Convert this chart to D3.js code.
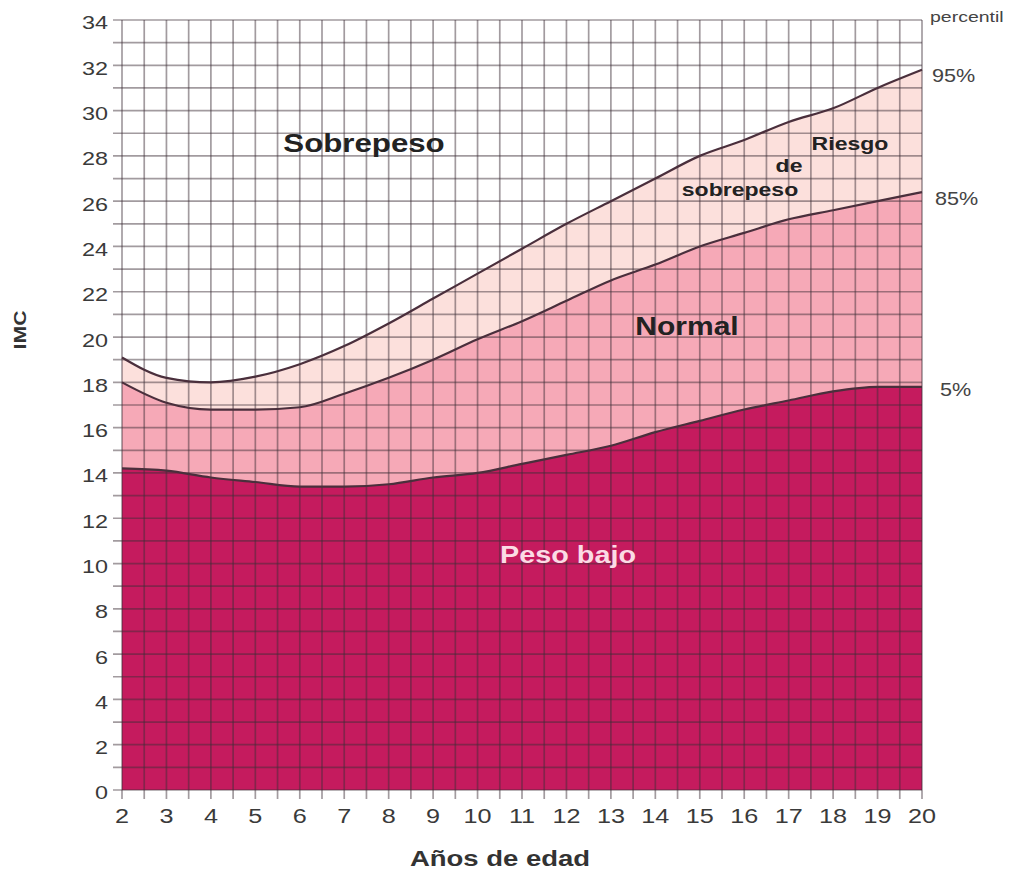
<!DOCTYPE html>
<html><head><meta charset="utf-8">
<script src="https://cdn.jsdelivr.net/npm/d3@7"></script>
<style>body{margin:0;background:#fff}svg{display:block;font-family:"Liberation Sans",Arial,sans-serif}</style>
</head><body><svg id="c" width="1015" height="870"></svg>
<script>
const ages = [2,3,4,5,6,7,8,9,10,11,12,13,14,15,16,17,18,19,20];
const p5  = [14.2,14.1,13.8,13.6,13.4,13.4,13.5,13.8,14.0,14.4,14.8,15.2,15.8,16.3,16.8,17.2,17.6,17.8,17.8];
const p85 = [18.0,17.1,16.8,16.8,16.9,17.5,18.2,19.0,19.9,20.7,21.6,22.5,23.2,24.0,24.6,25.2,25.6,26.0,26.4];
const p95 = [19.1,18.2,18.0,18.25,18.8,19.6,20.6,21.7,22.8,23.9,25.0,26.0,27.0,28.0,28.7,29.5,30.1,31.0,31.8];
const yTicks = d3.range(0,35,2);
const xTicks = d3.range(2,21,1);
const percentLabels = ["95%","85%","5%"];

const svg = d3.select("#c");
const x = d3.scaleLinear().domain([2,20]).range([122,922]);
const y = d3.scaleLinear().domain([0,34]).range([790,20]);
const curve = d3.curveMonotoneX;
const data = ages.map((a,i)=>({a, p5:p5[i], p85:p85[i], p95:p95[i]}));

const area = (lo,hi)=>d3.area().curve(curve).x(d=>x(d.a)).y0(lo).y1(hi);
svg.append("path").datum(data).attr("fill","#fce0dc").attr("d",area(d=>y(d.p85),d=>y(d.p95)));
svg.append("path").datum(data).attr("fill","#f6a9b7").attr("d",area(d=>y(d.p5),d=>y(d.p85)));
svg.append("path").datum(data).attr("fill","#c51b5e").attr("d",area(()=>y(0),d=>y(d.p5)));

// grid
const g = svg.append("g").attr("stroke","rgba(60,45,55,0.48)").attr("stroke-width",1.7);
d3.range(2,20.01,0.5).forEach(v=>{
  g.append("line").attr("x1",x(v)).attr("x2",x(v)).attr("y1",y(34)).attr("y2",y(0)+9);
});
d3.range(0,34.01,1).forEach(v=>{
  g.append("line").attr("x1",x(2)-9).attr("x2",x(20)).attr("y1",y(v)).attr("y2",y(v));
});

// percentile lines
["p95","p85","p5"].forEach(k=>{
  svg.append("path").datum(data).attr("fill","none").attr("stroke","#4a2f3c").attr("stroke-width",2.2)
    .attr("d",d3.line().curve(curve).x(d=>x(d.a)).y(d=>y(d[k])));
});

// stretched text helper
function txt(t,xx,yy,opt){
  const gg = svg.append("g").attr("transform",`translate(${xx},${yy})`);
  const el = gg.append("text").attr("transform",`scale(${opt.sx||1},1)`)
    .attr("text-anchor",opt.anchor||"start").attr("font-size",opt.fs).attr("fill",opt.fill||"#333")
    .attr("font-weight",opt.bold?"bold":"normal").text(t);
  if(opt.dy) el.attr("dy",opt.dy);
  return gg;
}

yTicks.forEach(v=>txt(v,108,y(v)+3,{anchor:"end",fs:18,sx:1.3,dy:"0.36em",fill:"#3a3a3a"}));
xTicks.forEach(v=>txt(v,x(v),815,{anchor:"middle",fs:21,sx:1.2,dy:"0.36em",fill:"#3a3a3a"}));

svg.append("text").attr("transform","translate(26,330) rotate(-90) scale(1.25,1)").attr("text-anchor","middle")
  .attr("font-weight","bold").attr("font-size",17).attr("fill","#333").text("IMC");
txt("Años de edad",500,866,{anchor:"middle",fs:22,sx:1.25,bold:true,fill:"#333"});

// right labels
txt("percentil",930,22,{fs:15,sx:1.3,fill:"#444"});
const pl = [31.8,26.4,17.8];
const px = [932,935,940];
percentLabels.forEach((t,i)=>{
  txt(t,px[i],y(pl[i])+(i===2?3:6),{fs:18,sx:1.2,dy:"0.36em",fill:"#444"});
});

// region labels
const lab = (t,xx,yy,fs,col,sx)=>txt(t,xx,yy,{anchor:"middle",fs,sx,bold:true,fill:col});
lab("Sobrepeso",364,152,25,"#222",1.25);
lab("Riesgo",850,150,18,"#222",1.28);
lab("de",789,172,18,"#222",1.28);
lab("sobrepeso",740,196,18,"#222",1.28);
lab("Normal",687,335,25,"#222",1.2);
lab("Peso bajo",568,563,24,"#fbdbe5",1.2);
</script></body></html>
